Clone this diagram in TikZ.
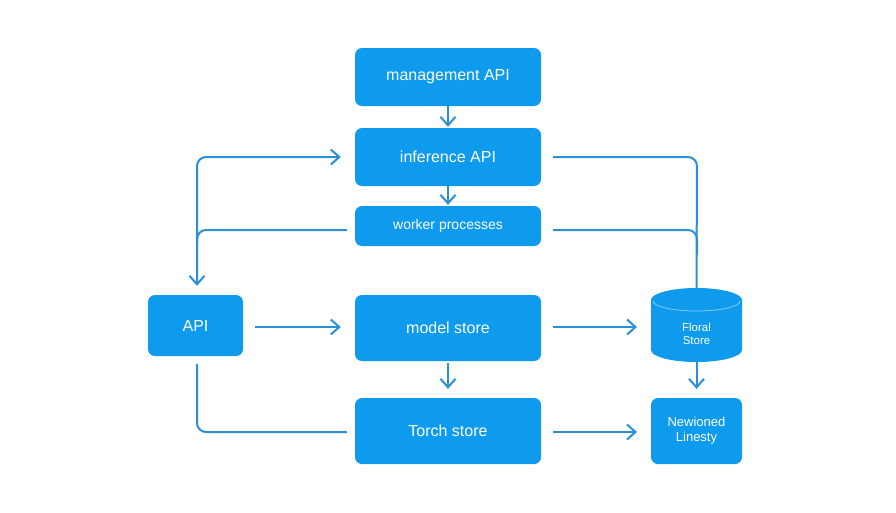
\documentclass[tikz,border=0pt]{standalone}
\usepackage{fontspec}
\setmainfont{Liberation Sans}
\usetikzlibrary{arrows.meta,shapes.geometric}
\definecolor{boxblue}{HTML}{0E9BEE}
\definecolor{lineblue}{HTML}{2B8FD8}
\begin{document}
\begin{tikzpicture}[x=1pt,y=-1pt,
  blk/.style={draw=none,fill=boxblue,rounded corners=7pt,text=white,inner sep=0pt,align=center},
  conn/.style={draw=lineblue,line width=2pt,rounded corners=9pt},
  arr/.style={conn,-{Straight Barb[length=8.5pt,width=15pt,line width=2pt]}}]
\useasboundingbox[fill=white] (0,0) rectangle (896,512);
\node[blk,minimum width=186pt,minimum height=58pt,font=\fontsize{16}{18}\selectfont] (mgmt) at (448,77) {management API};
\node[blk,minimum width=186pt,minimum height=58pt,font=\fontsize{16}{18}\selectfont] (inf) at (448,157) {inference API};
\node[blk,minimum width=186pt,minimum height=40pt,font=\fontsize{14}{16}\selectfont] (wrk) at (448,226) {worker processes};
\node[blk,minimum width=95pt,minimum height=61pt,font=\fontsize{16}{18}\selectfont] (api) at (195.5,325.5) {API};
\node[blk,minimum width=186pt,minimum height=66pt,font=\fontsize{16}{18}\selectfont] (model) at (448,328) {model store};
\node[blk,minimum width=186pt,minimum height=66pt,font=\fontsize{16}{18}\selectfont] (torch) at (448,431) {Torch store};
\node[blk,minimum width=91pt,minimum height=66pt,font=\fontsize{13}{15}\selectfont] (newi) at (696.5,431) {Newioned\\Linesty};
% cylinder
\fill[boxblue] (651,300) -- (651,350) arc[start angle=180,end angle=360,x radius=45.5pt,y radius=12pt] -- (742,300) arc[start angle=0,end angle=180,x radius=45.5pt,y radius=12pt] -- cycle;
\draw[white!55!boxblue,line width=0.7pt] (653,301) arc[start angle=180,end angle=360,x radius=43.5pt,y radius=10pt];
\node[text=white,align=center,font=\fontsize{11.5}{13}\selectfont] (store) at (696.5,334) {Floral\\Store};
\coordinate (cyltop) at (696.5,288);
\coordinate (cylbot) at (696.5,362);
% connectors
\draw[arr] (mgmt.south) -- ([yshift=1pt]inf.north);
\draw[arr] (inf.south) -- ([yshift=1pt]wrk.north);
\coordinate (lj) at (197,230);
\draw[arr] ([xshift=-8pt]wrk.west |- lj) -- (lj) -- ([yshift=9pt]api.north -| lj);
\draw[arr] (197,245) -- (197,157) -- ([xshift=-14pt]inf.west);
\draw[conn] ([xshift=12pt]inf.east) -- (697,157) -- (cyltop);
\draw[conn] ([xshift=12pt]wrk.east |- lj) -- (697,230) -- (697,255);
\draw[arr] ([xshift=12pt]api.east |- 0,327) -- ([xshift=-14pt]model.west |- 0,327);
\draw[arr] ([xshift=12pt]model.east |- 0,327) -- (637,327);
\draw[arr] ([yshift=-2pt]model.south) -- ([yshift=9pt]torch.north);
\draw[conn] ([yshift=-8pt]api.south -| lj) -- (197,432) -- ([xshift=-8pt]torch.west |- 0,432);
\draw[arr] ([xshift=12pt]torch.east |- 0,432) -- (637,432);
\draw[arr] (cylbot) -- ([yshift=9pt]newi.north);
\end{tikzpicture}
\end{document}
